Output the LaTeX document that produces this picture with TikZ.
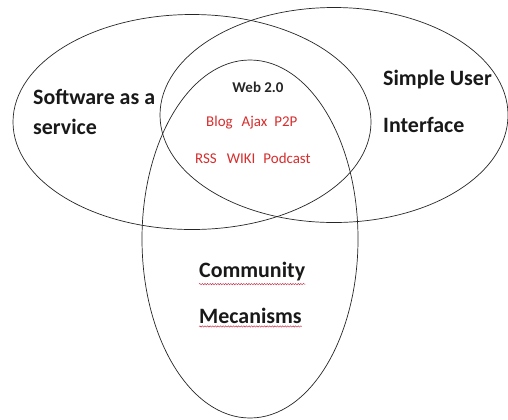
\documentclass[tikz,border=0pt]{standalone}
\usepackage{fontspec}
\setmainfont{Carlito}
\usetikzlibrary{shapes.geometric,decorations.pathmorphing}
\definecolor{webred}{RGB}{215,45,45}
\definecolor{spellred}{RGB}{200,30,60}
\tikzset{
  venn/.style={draw=black!85, line width=0.7pt, ellipse, inner sep=0pt, outer sep=0pt},
  bigtxt/.style={font=\fontsize{22}{24}\selectfont\bfseries, text=black!90, inner sep=0pt, anchor=west},
  webtxt/.style={font=\fontsize{15}{17}\selectfont\bfseries, text=black!85, inner sep=0pt},
  redtxt/.style={font=\fontsize{15}{17}\selectfont, text=webred, inner sep=0pt, anchor=west},
  spell/.style={draw=spellred, line width=0.4pt, decorate, decoration={snake, amplitude=0.7pt, segment length=2.6pt}}
}
\begin{document}
\begin{tikzpicture}[x=1bp,y=-1bp]
\useasboundingbox (0,0) rectangle (508,419);
\fill[white] (0,0) rectangle (508,419);
\node[venn, minimum width=358bp, minimum height=215bp] (saas) at (192,122) {};
\node[venn, minimum width=348bp, minimum height=215bp] (sui) at (334,115) {};
\node[venn, minimum width=216bp, minimum height=358bp] (comm) at (250,239) {};
\node[bigtxt] (t1) at (33,97) {Software as a};
\node[bigtxt] (t2) at (33,127) {service};
\node[bigtxt] (t3) at (383,80) {Simple User};
\node[bigtxt] (t4) at (383,125) {Interface};
\node[webtxt] (w) at (258,87) {Web 2.0};
\node[redtxt] (r1) at (206,123) {Blog\hspace{9bp}Ajax\hspace{7bp}P2P};
\node[redtxt] (r2) at (195,158) {RSS\hspace{10bp}WIKI\hspace{8bp}Podcast};
\node[bigtxt] (c1) at (199,272) {Community};
\node[bigtxt] (c2) at (199,316) {Mecanisms};
\draw[spell] ([yshift=-2.5bp]c1.south west) -- ([yshift=-2.5bp]c1.south east);
\draw[spell] ([yshift=-2.5bp]c2.south west) -- ([yshift=-2.5bp]c2.south east);
\end{tikzpicture}
\end{document}
